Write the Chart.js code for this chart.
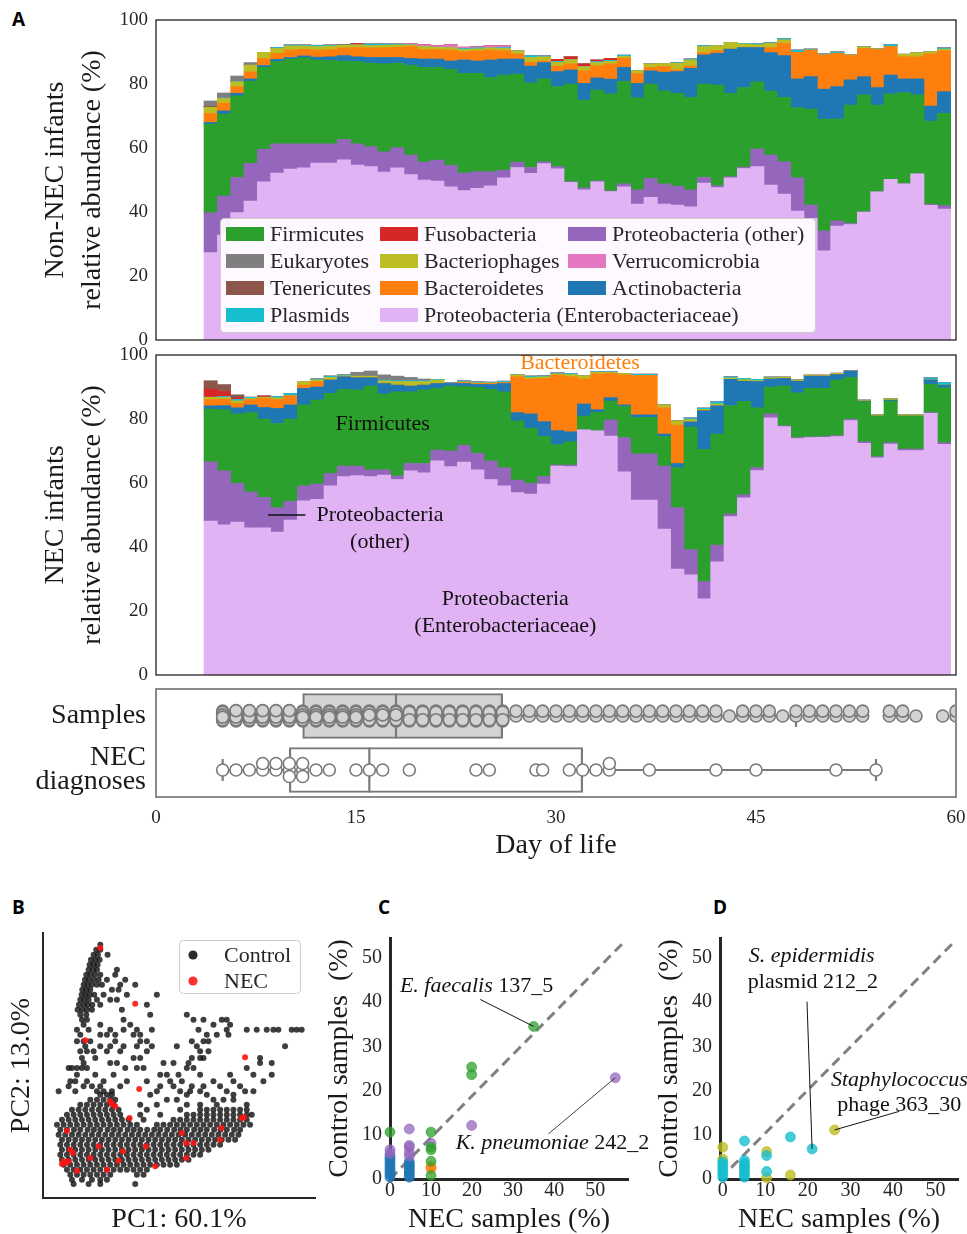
<!DOCTYPE html>
<html>
<head>
<meta charset="utf-8">
<title>Infant gut microbiome before NEC</title>
<script src="https://cdn.jsdelivr.net/npm/chart.js@4.4.1/dist/chart.umd.min.js"></script>
<style>
  html, body { margin: 0; padding: 0; background: #fff; }
  body { position: relative; width: 967px; height: 1234px; overflow: hidden; }
  .box { position: absolute; }
  .tag { position: absolute; font: bold 19px "Open Sans", "DejaVu Sans", sans-serif; line-height: 19px; color: #000; }
</style>
</head>
<body>
<div class="tag" style="left:12px; top:10px;">A</div>
<div class="tag" style="left:12px; top:898px;">B</div>
<div class="tag" style="left:378px; top:898px;">C</div>
<div class="tag" style="left:713px; top:898px;">D</div>

<div class="box" style="left:0; top:0; width:967px; height:350px;"><canvas id="nonNec"></canvas></div>
<div class="box" style="left:0; top:345px; width:967px; height:340px;"><canvas id="nec"></canvas></div>
<div class="box" style="left:0; top:685px; width:967px; height:175px;"><canvas id="timeline"></canvas></div>
<div class="box" style="left:0; top:895px; width:320px; height:339px;"><canvas id="pca"></canvas></div>
<div class="box" style="left:320px; top:900px; width:330px; height:334px;"><canvas id="bacteria"></canvas></div>
<div class="box" style="left:650px; top:900px; width:317px; height:334px;"><canvas id="mobile"></canvas></div>

<script>
// ---- panel A: mean relative abundance per day of life ----
const dayBins = [4, 5, 6, 7, 8, 9, 10, 11, 12, 13, 14, 15, 16, 17, 18, 19, 20, 21, 22, 23,
  24, 25, 26, 27, 28, 29, 30, 31, 32, 33, 34, 35, 36, 37, 38, 39, 40, 41, 42, 43,
  44, 45, 46, 47, 48, 49, 50, 51, 52, 53, 54, 55, 56, 57, 58, 59];
const pctTicks = [0, 20, 40, 60, 80, 100];
const phylumNames = ['Proteobacteria (Enterobacteriaceae)', 'Proteobacteria (other)', 'Firmicutes',
  'Actinobacteria', 'Bacteroidetes', 'Bacteriophages', 'Plasmids', 'Verrucomicrobia',
  'Fusobacteria', 'Tenericutes', 'Eukaryotes'];

// non-NEC infants
const nnEntero = [27.3, 32.8, 39.8, 43.4, 49.4, 52.2, 53.4, 53.8, 55.3, 55.3,
  56.3, 54.7, 54.2, 52.5, 53.8, 51.7, 50.0, 49.7, 47.9, 46.7,
  47.4, 48.2, 50.7, 53.9, 52.1, 55.1, 53.5, 49.3, 46.9, 49.4,
  46.4, 47.9, 42.5, 44.6, 42.5, 42.2, 41.6, 49.0, 47.6, 50.7,
  53.6, 54.2, 48.4, 45.6, 40.3, 38.0, 27.9, 35.6, 36.1, 40.0,
  46.3, 50.2, 48.8, 51.9, 42.1, 40.9];
const nnOther = [12.5, 12.2, 11.0, 11.8, 10.2, 9.1, 7.9, 7.5, 6.0, 6.0,
  6.4, 6.6, 6.2, 6.3, 6.3, 6.1, 5.6, 6.5, 6.7, 5.5,
  5.2, 4.4, 2.4, 1.7, 1.8, 0.6, 0.7, 0.2, 0.6, 0.3,
  0.2, 0.9, 4.4, 5.9, 6.3, 5.9, 5.3, 1.8, 0.6, 0.3,
  0.4, 5.5, 9.4, 10.1, 10.4, 4.2, 6.2, 1.6, 0.3, 0,
  0, 0, 0, 0, 0.3, 1.1];
const nnFirmicutes = [27.7, 25.6, 25.5, 25.7, 25.6, 25.7, 26.5, 26.9, 26.2, 26.0,
  24.5, 25.7, 26.1, 27.5, 26.4, 28.1, 29.6, 29.0, 30.0, 31.1,
  30.7, 29.4, 29.7, 27.5, 26.5, 25.9, 25.0, 30.5, 27.5, 28.4,
  30.3, 32.0, 28.8, 29.5, 29.1, 29.0, 28.9, 29.2, 31.5, 26.1,
  24.9, 21.0, 20.0, 20.1, 21.9, 30.0, 34.9, 31.8, 37.0, 36.6,
  27.1, 26.7, 28.5, 24.7, 26.0, 28.8];
const nnActino = [0.5, 1.0, 0.8, 0.7, 0.6, 0.7, 0.5, 0.6, 0.9, 1.2,
  1.7, 1.5, 1.8, 2.0, 1.8, 2.1, 2.6, 2.6, 2.6, 4.2,
  3.9, 5.5, 5.0, 4.7, 5.2, 5.1, 4.7, 4.4, 5.2, 3.8,
  4.6, 4.4, 4.5, 4.1, 5.8, 6.8, 9.1, 9.1, 9.9, 13.8,
  12.5, 10.7, 12.0, 13.1, 9.0, 10.1, 9.4, 10.2, 7.9, 5.7,
  5.5, 5.9, 4.3, 5.0, 4.7, 6.8];
const nnBactero = [2.8, 2.4, 2.0, 2.2, 2.2, 1.9, 2.3, 2.0, 2.2, 2.3,
  2.4, 2.9, 3.0, 3.0, 3.2, 3.7, 3.0, 3.0, 3.4, 2.6,
  3.2, 3.1, 2.6, 1.6, 1.2, 0.5, 1.7, 1.9, 3.9, 3.8,
  4.8, 2.9, 3.1, 1.1, 1.8, 0.5, 0.7, 0.7, 0.8, 0,
  0, 0, 1.6, 3.8, 8.3, 8.3, 10.7, 10.4, 7.6, 8.8,
  11.9, 8.9, 6.9, 6.9, 16.3, 12.8];
const nnPhage = [1.9, 1.5, 1.6, 2.1, 1.9, 1.5, 1.3, 1.1, 1.1, 1.1,
  0.8, 0.8, 0.7, 0.8, 0.7, 0.5, 0.9, 0.7, 0.8, 0.7,
  0.6, 0.7, 0.7, 0.9, 1.5, 1.3, 1.2, 1.3, 1.3, 1.0,
  0.8, 0.5, 0.9, 1.1, 0.9, 2.1, 1.9, 1.9, 1.6, 2.1,
  1.1, 0.9, 1.3, 1.1, 0, 0, 0, 0, 0.2, 0.5,
  0.2, 0, 0.8, 1.3, 0.7, 0.5];
const nnPlasmid = [0, 0.2, 0.2, 0, 0, 0.3, 0.3, 0.3, 0.4, 0.3,
  0, 0, 0.5, 0.4, 0.3, 0, 0, 0, 0, 0.3,
  0.3, 0, 0.3, 0, 0.6, 0.3, 0.3, 0, 0, 0.3,
  0.3, 0.4, 0, 0, 0, 0.2, 0.3, 0.3, 0, 0,
  0.2, 0.3, 0.2, 0.4, 0.7, 0.3, 0.3, 0.4, 0, 0,
  0, 0.6, 0, 0, 0, 0.4];
const nnVerruco = [0, 0, 0, 0, 0, 0, 0, 0, 0, 0,
  0, 0, 0, 0, 0, 0.3, 0.6, 0.5, 0.8, 0.4,
  0.3, 0.7, 0.5, 0, 0, 0, 0, 0, 0, 0,
  0, 0, 0, 0, 0, 0, 0, 0, 0, 0,
  0, 0, 0, 0, 0, 0, 0, 0, 0, 0,
  0, 0, 0, 0, 0, 0];
const nnFuso = [0, 0, 0, 0, 0, 0, 0, 0, 0, 0,
  0, 0.4, 0, 0, 0, 0, 0, 0, 0, 0,
  0, 0, 0, 0, 0, 0, 0.6, 0.9, 0.9, 0.5,
  0.6, 0, 0, 0, 0, 0, 0, 0, 0, 0,
  0, 0, 0, 0, 0, 0, 0, 0, 0, 0,
  0, 0, 0, 0, 0, 0];
const nnTeneri = [0.3, 0, 0, 0, 0, 0, 0, 0, 0, 0,
  0, 0, 0, 0, 0, 0, 0, 0, 0, 0,
  0, 0, 0, 0, 0, 0, 0, 0, 0, 0,
  0, 0, 0, 0, 0, 0, 0, 0, 0, 0,
  0, 0, 0, 0, 0, 0, 0, 0, 0, 0,
  0, 0, 0, 0, 0, 0];
const nnEukary = [1.7, 1.5, 1.6, 0.8, 0, 0, 0, 0, 0, 0,
  0.3, 0, 0, 0, 0, 0, 0, 0, 0, 0,
  0, 0, 0, 0, 0, 0, 0, 0, 0, 0,
  0, 0, 0, 0, 0, 0, 0, 0, 0, 0,
  0, 0, 0, 0, 0, 0, 0, 0, 0, 0,
  0, 0, 0, 0, 0, 0];

// NEC infants
const necEntero = [48.1, 46.9, 47.8, 46.0, 46.0, 44.7, 48.4, 54.4, 54.9, 59.1,
  62.0, 62.3, 62.0, 62.5, 61.1, 63.8, 63.2, 66.9, 65.1, 66.5,
  64.1, 61.1, 59.1, 57.0, 56.5, 59.7, 65.3, 65.1, 76.6, 76.3,
  74.7, 63.5, 54.7, 54.7, 45.6, 33.1, 31.3, 23.8, 35.4, 49.5,
  55.4, 63.9, 80.4, 77.6, 73.9, 74.2, 74.3, 74.5, 79.5, 72.4,
  67.9, 72.2, 70.1, 70.1, 81.8, 72.1];
const necOther = [18.5, 16.9, 12.1, 11.2, 9.5, 7.6, 5.9, 4.7, 4.8, 3.9,
  3.3, 3.0, 2.1, 1.6, 1.1, 2.3, 2.9, 3.4, 4.9, 5.3,
  5.2, 5.8, 5.7, 3.9, 3.4, 2.3, 0.3, 0.5, 0, 0,
  5.0, 10.7, 14.4, 14.4, 19.7, 19.2, 7.9, 5.4, 5.2, 0.8,
  0.9, 0.9, 1.2, 0.3, 0.3, 0.2, 0.2, 0.3, 0.4, 0.5,
  0.3, 0.4, 0.5, 0.5, 0.2, 0.5];
const necFirmicutes = [16.5, 19.1, 21.7, 24.8, 24.5, 26.3, 25.7, 25.3, 26.2, 25.0,
  24.0, 23.8, 26.2, 23.7, 26.3, 22.4, 23.0, 19.3, 20.3, 18.3,
  20.6, 22.4, 23.7, 18.5, 17.2, 12.5, 6.4, 7.3, 4.3, 5.8,
  5.9, 9.7, 11.4, 11.4, 9.2, 12.5, 38.3, 41.3, 34.7, 33.9,
  29.2, 18.7, 8.4, 12.4, 14.0, 15.2, 15.1, 17.4, 13.1, 12.5,
  12.7, 13.0, 10.3, 10.3, 8.9, 17.2];
const necActino = [1.0, 1.3, 1.9, 2.4, 3.6, 4.7, 4.4, 5.2, 4.1, 4.2,
  3.9, 3.8, 2.6, 3.3, 2.1, 1.8, 1.5, 1.5, 0.8, 1.0,
  0.9, 1.5, 2.6, 2.6, 4.5, 4.7, 4.4, 3.1, 3.8, 0.8,
  1.1, 0.5, 0.8, 0.8, 0.8, 1.3, 1.6, 12.1, 8.8, 8.2,
  6.3, 8.2, 2.5, 2.4, 3.6, 3.8, 3.8, 1.7, 2.0, 0.2,
  0, 0.3, 0, 0, 1.3, 0.8];
const necBactero = [2.0, 2.0, 1.4, 1.7, 2.9, 2.8, 2.9, 1.0, 1.7, 0,
  0, 0, 0, 0, 0, 0, 0, 0, 0, 0.3,
  0.3, 0.3, 0.3, 11.2, 10.9, 13.5, 17.4, 17.2, 7.8, 11.2,
  7.6, 9.4, 12.3, 12.3, 8.2, 12.0, 0, 0, 0, 0,
  0, 0, 0, 0, 0, 0, 0, 0, 0, 0,
  0, 0, 0, 0, 0, 0];
const necPhage = [0.7, 0.5, 0.8, 0.3, 0.3, 0.5, 0, 1.1, 0.5, 0.8,
  0.3, 0.5, 0.5, 0.8, 1.1, 1.4, 1.1, 1.1, 0, 0.2,
  0.2, 0.2, 0, 0.6, 0.5, 0.5, 0.3, 0.7, 1.0, 0.5,
  0.3, 0.4, 0, 0, 0.9, 1.3, 0.7, 0.4, 0.6, 0.4,
  0.5, 0.3, 0.4, 0.4, 0.4, 0.3, 0.3, 0.4, 0, 0.3,
  0.4, 0.4, 0.4, 0.4, 0, 0];
const necPlasmid = [0, 0.3, 0.4, 0.4, 0, 0.4, 0.7, 0, 0.3, 0.4,
  0.3, 0, 0, 0.3, 0.3, 0.3, 0.3, 0.2, 0.2, 0.3,
  0.3, 0.2, 0.4, 0, 0.4, 0.3, 0.3, 0.3, 0, 0.2,
  0.2, 0, 0.4, 0.4, 0, 0, 0.5, 0.4, 0.7, 0.4,
  0.4, 0.4, 0.2, 0, 0, 0, 0, 0, 0, 0,
  0, 0, 0, 0, 0.7, 0.8];
const necVerruco = [0, 0, 0, 0, 0, 0, 0, 0, 0, 0,
  0, 0, 0, 0, 0, 0, 0, 0, 0, 0,
  0, 0, 0, 0, 0, 0, 0, 0, 0, 0,
  0, 0, 0, 0, 0, 0, 0, 0, 0, 0,
  0, 0, 0, 0, 0, 0, 0, 0, 0, 0,
  0, 0, 0, 0, 0, 0];
const necFuso = [2.5, 1.6, 0.5, 0, 0.4, 0, 0, 0, 0, 0,
  0, 0, 0, 0, 0, 0, 0, 0, 0, 0,
  0, 0, 0, 0, 0, 0, 0, 0, 0, 0,
  0, 0, 0, 0, 0, 0, 0, 0, 0, 0,
  0, 0, 0, 0, 0, 0, 0, 0, 0, 0,
  0, 0, 0, 0, 0, 0];
const necTeneri = [2.6, 2.1, 0.9, 0, 0, 0, 0, 0, 0, 0,
  0, 0, 0, 0, 0, 0, 0, 0, 0, 0,
  0, 0, 0, 0, 0, 0, 0, 0, 0, 0,
  0, 0, 0, 0, 0, 0, 0, 0, 0, 0,
  0, 0, 0, 0, 0, 0, 0, 0, 0, 0,
  0, 0, 0, 0, 0, 0];
const necEukary = [0, 0, 0, 0, 0, 0, 0, 0, 0, 0,
  0, 1.2, 1.6, 1.6, 1.4, 1.0, 0.5, 0, 0, 0,
  0, 0, 0, 0, 0, 0, 0, 0, 0, 0,
  0, 0, 0, 0, 0, 0, 0, 0, 0, 0,
  0, 0, 0, 0, 0, 0, 0, 0, 0, 0,
  0, 0, 0, 0, 0, 0];

// sample days (day, number of samples) and NEC diagnosis days
const dayTicks = [0, 15, 30, 45, 60];
const rowLabels = ['Samples', ['NEC', 'diagnoses']];
const sampleDayCounts = [[5, 9], [6, 10], [7, 10], [8, 10], [9, 10], [10, 10], [11, 9], [12, 9],
  [13, 9], [14, 9], [15, 9], [16, 8], [17, 8], [18, 8], [19, 7], [20, 7], [21, 7], [22, 7],
  [23, 7], [24, 7], [25, 7], [26, 7], [27, 2], [28, 2], [29, 2], [30, 2], [31, 2], [32, 2],
  [33, 2], [34, 2], [35, 2], [36, 2], [37, 2], [38, 2], [39, 2], [40, 2], [41, 2], [42, 2],
  [43, 1], [44, 2], [45, 2], [46, 2], [47, 1], [48, 2], [49, 2], [50, 2], [51, 2], [52, 2],
  [53, 2], [55, 2], [56, 2], [57, 1], [59, 1], [60, 2]];
const necDays = [5, 6, 7, 8, 8, 9, 9, 10, 10, 10, 11, 11, 11, 12, 13, 15, 16, 17, 19, 24, 25,
  28.5, 29, 31, 32, 33, 34, 34, 37, 42, 45, 51, 54];

// ---- panel B: PCA (PC2 value, PC1 values along that row) ----
const pcaControlRows = [
  [850, [300]],
  [835, [288, 300]],
  [820, [280, 293, 322]],
  [805, [272, 285, 298]],
  [790, [268, 280, 292]],
  [775, [265, 278, 290, 350]],
  [760, [258, 270, 284, 300, 345]],
  [745, [254, 266, 280, 295, 320, 375]],
  [730, [250, 262, 275, 290, 305, 360, 405]],
  [715, [246, 258, 270, 335, 355]],
  [700, [244, 256, 268, 282, 310, 380, 470]],
  [685, [240, 252, 265, 290, 330, 350]],
  [670, [236, 250, 262, 276, 300, 440]],
  [655, [232, 246, 260, 275, 365]],
  [640, [240, 258, 450, 560]],
  [625, [245, 260, 370, 580, 610, 665, 680]],
  [610, [250, 300, 390, 640, 690]],
  [595, [230, 265, 330, 370, 410, 455, 595, 680, 740, 770, 800, 820, 835, 875, 890, 905]],
  [580, [240, 300, 320, 345, 400, 420, 620, 650, 685]],
  [560, [230, 250, 270, 345, 420, 440, 575, 610, 625]],
  [545, [255, 300, 330, 370, 410, 455, 530, 590, 855]],
  [530, [240, 260, 280, 320, 360, 440, 600, 625]],
  [510, [245, 285, 400, 420, 575, 600, 610, 780]],
  [495, [250, 330, 350, 490, 520, 565, 780, 815]],
  [480, [205, 215, 230, 245, 260, 375, 410, 430, 560, 580, 740]],
  [460, [230, 285, 340, 480, 500, 535, 600, 690, 760, 815]],
  [440, [210, 225, 260, 310, 380, 440, 510, 545, 640, 700, 790]],
  [425, [205, 250, 275, 300, 360, 480, 520, 575, 610, 660, 720]],
  [410, [175, 225, 290, 310, 335, 470, 540, 570, 600, 680, 735, 760]],
  [400, [300, 320, 335, 450, 560, 620, 700]],
  [385, [270, 290, 310, 330, 345, 500, 530, 640, 670, 700]],
  [370, [240, 260, 280, 300, 320, 340, 420, 470, 560, 600, 650, 740]],
  [355, [215, 235, 255, 275, 295, 315, 335, 355, 440, 540, 600, 620, 640, 660, 680, 700, 720, 740]],
  [340, [200, 220, 240, 260, 280, 300, 320, 340, 360, 420, 480, 560, 580, 600, 620, 640, 660, 680, 700, 720, 740, 755]],
  [325, [185, 205, 225, 245, 265, 285, 305, 325, 345, 365, 385, 430, 520, 540, 560, 580, 600, 620, 640, 660, 680, 700, 720, 740]],
  [310, [170, 190, 210, 230, 250, 270, 290, 310, 330, 350, 370, 390, 410, 470, 490, 510, 530, 550, 570, 590, 610, 630, 650, 670, 690, 710, 730, 750]],
  [295, [180, 200, 221, 240, 262, 281, 300, 322, 341, 360, 382, 401, 420, 441, 462, 480, 501, 522, 541, 560, 582, 601, 620, 642, 661, 680, 702, 720]],
  [280, [175, 195, 215, 235, 255, 275, 295, 315, 335, 355, 375, 395, 415, 435, 455, 475, 495, 515, 535, 555, 575, 595, 615, 635, 655, 675, 695, 715]],
  [265, [185, 205, 225, 245, 265, 285, 305, 325, 345, 365, 385, 405, 425, 445, 465, 485, 505, 525, 545, 565, 585, 605, 625, 645, 665, 685, 705]],
  [250, [180, 200, 220, 240, 260, 280, 300, 320, 340, 360, 380, 400, 420, 440, 460, 480, 500, 520, 540, 560, 580, 600, 620, 640, 660]],
  [235, [185, 205, 225, 245, 265, 285, 305, 325, 345, 365, 385, 405, 425, 445, 465, 485, 505, 525, 545, 565, 585, 605, 625]],
  [220, [180, 200, 220, 240, 260, 280, 300, 320, 340, 360, 380, 400, 420, 440, 460, 480, 500, 520, 540, 560, 580, 600]],
  [205, [185, 205, 225, 245, 265, 285, 305, 325, 345, 365, 385, 405, 425, 445, 465, 485, 505, 525, 545, 565]],
  [190, [190, 210, 230, 250, 270, 290, 310, 330, 350, 370, 390, 410, 430, 450, 470, 490, 510, 530]],
  [175, [200, 220, 240, 260, 280, 300, 320, 340, 360, 380, 400, 420, 440]],
  [160, [210, 230, 250, 270, 290, 310, 330, 410, 430]],
  [145, [215, 245, 275, 300, 320]],
  [132, [220, 265, 300, 405]]
];
const pcaNec = [[300, 840], [405, 673], [255, 563], [735, 512], [417, 417], [330, 380], [335, 372],
  [345, 365], [388, 330], [200, 292], [210, 235], [218, 225], [190, 200], [185, 192], [195, 195],
  [205, 200], [230, 172], [270, 210], [295, 245], [320, 175], [355, 202], [368, 230], [437, 245],
  [465, 185], [545, 285], [558, 255], [580, 255], [558, 210], [663, 300], [660, 265], [725, 330],
  [732, 332]];

// ---- panels C and D: % of NEC samples vs % of control samples ----
const shareTicks = [0, 10, 20, 30, 40, 50];
const cFirmicutes = [[0, 10.6], [10, 10.6], [10, 7.2], [10, 6.6], [10, 4.0], [10, 0.8],
  [19.9, 25.3], [19.9, 23.6], [35.0, 34.5]];
const cProteobacteria = [[0, 6.6], [0, 5.8], [4.7, 11.3], [4.7, 7.6], [4.7, 7.2], [4.7, 6.0],
  [4.7, 5.2], [10, 8.1], [19.9, 12.1], [54.9, 22.9]];
const cActinobacteria = [[0, 0.4], [0, 1.0], [0, 1.6], [0, 2.2], [0, 2.8], [0, 3.4], [0, 4.0],
  [0, 4.6], [0, 5.2], [4.7, 0.4], [4.7, 0.9], [4.7, 1.4], [4.7, 1.9], [4.7, 2.4], [4.7, 2.9],
  [4.7, 3.4], [4.7, 3.9]];
const cBacteroidetes = [[10, 2.9], [10, 2.3]];
const dPhages = [[0, 7.2], [0, 4.5], [5.1, 2.7], [10.3, 6.2], [10.3, 0.3], [15.9, 0.9], [26.3, 11.1]];
const dPlasmids = [[0, 0.4], [0, 1.1], [0, 1.8], [0, 2.5], [0, 3.2], [0, 3.8], [5.1, 8.6],
  [5.1, 0.4], [5.1, 1.0], [5.1, 1.6], [5.1, 2.2], [5.1, 2.9], [5.1, 3.5], [5.1, 4.2],
  [10.3, 5.3], [10.3, 1.7], [15.9, 9.5], [21.0, 6.8]];

// ---------------------------------------------------------------------------
const SERIF = '"Liberation Serif", "Times New Roman", serif';
Chart.defaults.font.family = SERIF;
Chart.defaults.color = '#262626';
Chart.defaults.animation = false;

const phylumColors = ['#e1b3f5', '#9467bd', '#2ca02c', '#1f77b4', '#ff7f0e', '#bcbd22',
  '#17becf', '#e377c2', '#d62728', '#8c564b', '#7f7f7f'];
const GRAY = '#7a7a7a';

const asTicks = vals => s => { s.ticks = vals.map(v => ({ value: v })); };
const xy = pairs => pairs.map(([x, y]) => ({ x, y }));
// fix an axis' thickness and stop its labels from shrinking the plot area
const fitAxis = size => s => {
  if (s.isHorizontal()) s.height = size; else s.width = size;
  s.paddingTop = 0; s.paddingBottom = 0; s.paddingLeft = 0; s.paddingRight = 0;
};

function framePlugin(color, width) {
  return {
    id: 'frame',
    afterDraw(chart) {
      const { ctx, chartArea: a } = chart;
      ctx.save();
      ctx.strokeStyle = color;
      ctx.lineWidth = width;
      ctx.strokeRect(a.left, a.top, a.right - a.left, a.bottom - a.top);
      ctx.restore();
    }
  };
}

function boxPath(ctx, x, y, w, h, r) {
  ctx.beginPath();
  ctx.moveTo(x + r, y);
  ctx.arcTo(x + w, y, x + w, y + h, r);
  ctx.arcTo(x + w, y + h, x, y + h, r);
  ctx.arcTo(x, y + h, x, y, r);
  ctx.arcTo(x, y, x + w, y, r);
  ctx.closePath();
}

function drawParts(ctx, parts, cx, cy, size, color) {
  const fonts = parts.map(p => (p.it ? 'italic ' : '') + size + 'px ' + SERIF);
  let total = 0;
  const widths = parts.map((p, i) => {
    ctx.font = fonts[i];
    const w = ctx.measureText(p.t).width;
    total += w;
    return w;
  });
  let x = cx - total / 2;
  ctx.fillStyle = color;
  ctx.textAlign = 'left';
  ctx.textBaseline = 'middle';
  parts.forEach((p, i) => {
    ctx.font = fonts[i];
    ctx.fillText(p.t, x, cy);
    x += widths[i];
  });
}

function notesPlugin(notes, leaders) {
  return {
    id: 'notes',
    afterDatasetsDraw(chart) {
      const { ctx, scales: { x, y } } = chart;
      ctx.save();
      leaders.forEach(l => {
        ctx.beginPath();
        ctx.strokeStyle = '#111';
        ctx.lineWidth = l.width || 1;
        ctx.moveTo(x.getPixelForValue(l.from[0]), y.getPixelForValue(l.from[1]));
        ctx.lineTo(x.getPixelForValue(l.to[0]), y.getPixelForValue(l.to[1]));
        ctx.stroke();
      });
      notes.forEach(n => drawParts(ctx, n.parts, x.getPixelForValue(n.at[0]),
        y.getPixelForValue(n.at[1]), n.size || 22, n.color || '#111'));
      ctx.restore();
    }
  };
}

// ---- legend of panel A (3 columns, filled column by column) ----
const legendGrid = [
  ['Firmicutes', 'Fusobacteria', 'Proteobacteria (other)'],
  ['Eukaryotes', 'Bacteriophages', 'Verrucomicrobia'],
  ['Tenericutes', 'Bacteroidetes', 'Actinobacteria'],
  ['Plasmids', 'Proteobacteria (Enterobacteriaceae)', null]
];
const phylaLegend = {
  id: 'phylaLegend',
  afterDraw(chart) {
    const ctx = chart.ctx;
    const colX = [226, 380, 568];
    const rowY = [234, 261, 288, 315];
    ctx.save();
    boxPath(ctx, 220.5, 218.5, 595, 114, 4);
    ctx.fillStyle = 'rgba(255,255,255,0.92)';
    ctx.fill();
    ctx.strokeStyle = '#cccccc';
    ctx.lineWidth = 1;
    ctx.stroke();
    ctx.font = '22px ' + SERIF;
    ctx.textBaseline = 'middle';
    ctx.textAlign = 'left';
    legendGrid.forEach((row, r) => row.forEach((name, c) => {
      if (!name) return;
      ctx.fillStyle = phylumColors[phylumNames.indexOf(name)];
      ctx.fillRect(colX[c], rowY[r] - 7, 38, 14);
      ctx.fillStyle = '#262626';
      ctx.fillText(name, colX[c] + 44, rowY[r] + 1);
    }));
    ctx.restore();
  }
};

function stackedDatasets(series) {
  return phylumNames.map((name, i) => ({
    label: name,
    data: series[i],
    backgroundColor: phylumColors[i],
    borderWidth: 0,
    barPercentage: 1,
    categoryPercentage: 1
  }));
}

function abundanceOptions(titleLines, padTop, padBottom) {
  return {
    responsive: true,
    maintainAspectRatio: false,
    animation: false,
    events: [],
    layout: { autoPadding: false, padding: { top: padTop, bottom: padBottom, left: 0, right: 11 } },
    scales: {
      x: { type: 'linear', min: -0.1, max: 59.9, stacked: true, offset: false, display: false },
      y: {
        type: 'linear', min: 0, max: 100, stacked: true, offset: false,
        grid: { display: false, drawTicks: false },
        border: { display: false },
        afterBuildTicks: asTicks(pctTicks),
        afterFit: fitAxis(156),
        ticks: { font: { size: 19 }, padding: 8, color: '#262626' },
        title: {
          display: true, text: titleLines, color: '#1a1a1a',
          font: { size: 28, lineHeight: 1.32 }, padding: { top: 37, bottom: 0 }
        }
      }
    },
    plugins: { legend: { display: false }, tooltip: { enabled: false } }
  };
}

new Chart(document.getElementById('nonNec'), {
  type: 'bar',
  data: {
    labels: dayBins,
    datasets: stackedDatasets([nnEntero, nnOther, nnFirmicutes, nnActino, nnBactero, nnPhage,
      nnPlasmid, nnVerruco, nnFuso, nnTeneri, nnEukary])
  },
  options: abundanceOptions(['Non-NEC infants', 'relative abundance (%)'], 20, 10),
  plugins: [framePlugin('#222', 1.3), phylaLegend]
});

const necNotes = [
  { parts: [{ t: 'Bacteroidetes' }], at: [31.7, 97.5], color: '#ff7f0e' },
  { parts: [{ t: 'Firmicutes' }], at: [16.9, 78.4] },
  { parts: [{ t: 'Proteobacteria' }], at: [16.7, 50] },
  { parts: [{ t: '(other)' }], at: [16.7, 41.6] },
  { parts: [{ t: 'Proteobacteria' }], at: [26.1, 23.75] },
  { parts: [{ t: '(Enterobacteriaceae)' }], at: [26.1, 15.3] }
];
new Chart(document.getElementById('nec'), {
  type: 'bar',
  data: {
    labels: dayBins,
    datasets: stackedDatasets([necEntero, necOther, necFirmicutes, necActino, necBactero, necPhage,
      necPlasmid, necVerruco, necFuso, necTeneri, necEukary])
  },
  options: abundanceOptions(['NEC infants', 'relative abundance (%)'], 10, 10),
  plugins: [notesPlugin(necNotes, [{ from: [8.3, 50], to: [11.1, 50], width: 1.5 }]),
    framePlugin('#222', 1.3)]
});

// ---- sample / diagnosis timeline with box plots ----
function quantile(sorted, p) {
  const pos = (sorted.length - 1) * p;
  const lo = Math.floor(pos), hi = Math.ceil(pos);
  return sorted[lo] + (sorted[hi] - sorted[lo]) * (pos - lo);
}
function boxStats(values) {
  const s = [...values].sort((a, b) => a - b);
  const q1 = quantile(s, 0.25), med = quantile(s, 0.5), q3 = quantile(s, 0.75);
  const iqr = q3 - q1;
  return {
    q1, med, q3,
    lo: Math.min(...s.filter(v => v >= q1 - 1.5 * iqr)),
    hi: Math.max(...s.filter(v => v <= q3 + 1.5 * iqr))
  };
}
const sampleJitter = [0, -0.09, 0.09, -0.045, 0.045, -0.07, 0.07, -0.02, 0.02, -0.1];
const necJitter = [0, -0.12, 0.12];
function stripPoints(values, row, jitter) {
  const seen = {};
  return values.map(v => {
    const k = seen[v] = (seen[v] || 0) + 1;
    return { x: v, y: row + jitter[(k - 1) % jitter.length] };
  });
}
const sampleDays = sampleDayCounts.flatMap(([d, n]) => Array(n).fill(d));
const stats = [boxStats(sampleDays), boxStats(necDays)];
const line = { type: 'scatter', showLine: true, pointRadius: 0, borderColor: GRAY, borderWidth: 2.2, order: 3 };

new Chart(document.getElementById('timeline'), {
  type: 'scatter',
  data: {
    datasets: [
      { data: stripPoints(sampleDays, 0, sampleJitter), pointRadius: 6, pointBackgroundColor: '#d3d3d3',
        pointBorderColor: GRAY, pointBorderWidth: 1.6, order: 0 },
      { data: stripPoints(necDays, 1, necJitter), pointRadius: 6, pointBackgroundColor: '#ffffff',
        pointBorderColor: GRAY, pointBorderWidth: 1.6, order: 0 },
      { data: stats.map((s, r) => ({ x: s.med, y: r })), pointStyle: 'line', rotation: 90, pointRadius: 22.5,
        pointBorderColor: GRAY, pointBorderWidth: 2.2, order: 1 },
      { type: 'bar', indexAxis: 'y', data: stats.map((s, r) => ({ x: [s.q1, s.q3], y: r })),
        backgroundColor: ['#d3d3d3', '#ffffff'], borderColor: GRAY, borderWidth: 2.2,
        borderSkipped: false, barThickness: 45, grouped: false, order: 2 },
      ...stats.flatMap((s, r) => [
        Object.assign({}, line, { data: [{ x: s.lo, y: r }, { x: s.q1, y: r }] }),
        Object.assign({}, line, { data: [{ x: s.q3, y: r }, { x: s.hi, y: r }] })
      ]),
      { data: stats.flatMap((s, r) => [{ x: s.lo, y: r }, { x: s.hi, y: r }]), pointStyle: 'line',
        rotation: 90, pointRadius: 11, pointBorderColor: GRAY, pointBorderWidth: 2.2, order: 3 }
    ]
  },
  options: {
    responsive: true,
    maintainAspectRatio: false,
    animation: false,
    events: [],
    layout: { autoPadding: false, padding: { top: 4, bottom: 0, left: 0, right: 11 } },
    scales: {
      x: {
        type: 'linear', min: 0, max: 60, offset: false,
        grid: { display: false, drawTicks: false }, border: { display: false },
        afterBuildTicks: asTicks(dayTicks),
        afterFit: fitAxis(63),
        ticks: { font: { size: 19 }, padding: 10, maxRotation: 0 },
        title: { display: true, text: 'Day of life', color: '#1a1a1a', font: { size: 28, lineHeight: 1 }, padding: { top: 0, bottom: 0 } }
      },
      y: {
        type: 'linear', min: -0.5, max: 1.5, reverse: true, offset: false,
        grid: { display: false, drawTicks: false }, border: { display: false },
        afterBuildTicks: asTicks([0, 1]),
        afterFit: fitAxis(156),
        ticks: { font: { size: 28, lineHeight: 0.85 }, padding: 10, color: '#1a1a1a', callback: v => rowLabels[v] }
      }
    },
    plugins: { legend: { display: false }, tooltip: { enabled: false } }
  },
  plugins: [framePlugin('#8a8a8a', 2)]
});

// ---- B: PCA ----
const pcaControl = pcaControlRows.flatMap(([pc2, xs]) => xs.map(pc1 => ({ x: pc1, y: pc2 })));
const pcaLegend = {
  id: 'pcaLegend',
  afterDraw(chart) {
    const ctx = chart.ctx;
    ctx.save();
    boxPath(ctx, 179.5, 45.5, 121, 53, 4);
    ctx.fillStyle = 'rgba(255,255,255,0.92)';
    ctx.fill();
    ctx.strokeStyle = '#cccccc';
    ctx.lineWidth = 1;
    ctx.stroke();
    ctx.font = '22px ' + SERIF;
    ctx.textBaseline = 'middle';
    ctx.textAlign = 'left';
    [['Control', 'rgba(20,20,20,0.9)', 60], ['NEC', 'rgba(255,25,25,0.9)', 86]].forEach(([name, col, y]) => {
      ctx.beginPath();
      ctx.arc(193, y, 4.6, 0, Math.PI * 2);
      ctx.fillStyle = col;
      ctx.fill();
      ctx.fillStyle = '#262626';
      ctx.fillText(name, 224, y + 1);
    });
    ctx.restore();
  }
};
new Chart(document.getElementById('pca'), {
  type: 'scatter',
  data: {
    datasets: [
      { label: 'NEC', data: xy(pcaNec), pointRadius: 3, pointBorderWidth: 0,
        pointBackgroundColor: 'rgba(255,20,20,0.9)', order: 0, clip: false },
      { label: 'Control', data: pcaControl, pointRadius: 3, pointBorderWidth: 0,
        pointBackgroundColor: 'rgba(20,20,20,0.82)', order: 1, clip: false }
    ]
  },
  options: {
    responsive: true,
    maintainAspectRatio: false,
    animation: false,
    events: [],
    layout: { autoPadding: false, padding: { top: 38, right: 5, left: 0, bottom: 0 } },
    scales: {
      x: {
        type: 'linear', min: 128, max: 945, offset: false,
        grid: { display: false, drawTicks: false }, ticks: { display: false },
        border: { display: true, color: '#262626', width: 2 },
        afterFit: fitAxis(36),
        title: { display: true, text: 'PC1: 60.1%', color: '#1a1a1a', font: { size: 28, lineHeight: 1 }, padding: { top: 0, bottom: 0 } }
      },
      y: {
        type: 'linear', min: 90, max: 885, offset: false,
        grid: { display: false, drawTicks: false }, ticks: { display: false },
        border: { display: true, color: '#262626', width: 2 },
        afterFit: fitAxis(43),
        title: { display: true, text: 'PC2: 13.0%', color: '#1a1a1a', font: { size: 28, lineHeight: 1.2 }, padding: { top: 5, bottom: 0 } }
      }
    },
    plugins: { legend: { display: false }, tooltip: { enabled: false } }
  },
  plugins: [pcaLegend]
});

// ---- C and D ----
const diagonal = {
  id: 'diagonal',
  beforeDatasetsDraw(chart) {
    const { ctx, chartArea: a } = chart;
    ctx.save();
    ctx.strokeStyle = '#808080';
    ctx.lineWidth = 3;
    ctx.setLineDash([10, 6]);
    ctx.beginPath();
    ctx.moveTo(a.left, a.bottom);
    ctx.lineTo(a.right - 2, a.top + 2);
    ctx.stroke();
    ctx.restore();
  }
};

function sharePoints(pairs, color) {
  return { data: xy(pairs), pointRadius: 5, pointBackgroundColor: color, pointBorderColor: color,
    pointBorderWidth: 0.8, clip: false };
}

function shareOptions(xMin, xMax, padRight) {
  return {
    responsive: true,
    maintainAspectRatio: false,
    animation: false,
    events: [],
    layout: { autoPadding: false, padding: { top: 38, right: padRight, left: 0, bottom: 0 } },
    scales: {
      x: {
        type: 'linear', min: xMin, max: xMax, offset: false,
        grid: { display: false, drawTicks: false },
        border: { display: true, color: '#262626', width: 3 },
        afterBuildTicks: asTicks(shareTicks),
        afterFit: fitAxis(55),
        ticks: { font: { size: 20 }, padding: 0, maxRotation: 0 },
        title: { display: true, text: 'NEC samples (%)', color: '#1a1a1a', font: { size: 28, lineHeight: 1 }, padding: { top: 0, bottom: 0 } }
      },
      y: {
        type: 'linear', min: 0, max: 54.5, offset: false,
        grid: { display: false, drawTicks: false },
        border: { display: true, color: '#262626', width: 3 },
        afterBuildTicks: asTicks(shareTicks),
        afterFit: fitAxis(70),
        ticks: { font: { size: 20 }, padding: 8 },
        title: { display: true, text: 'Control samples  (%)', color: '#1a1a1a', font: { size: 28, lineHeight: 1.2 }, padding: { top: 3, bottom: 0 } }
      }
    },
    plugins: { legend: { display: false }, tooltip: { enabled: false } }
  };
}

new Chart(document.getElementById('bacteria'), {
  type: 'scatter',
  data: {
    datasets: [
      sharePoints(cFirmicutes, 'rgba(44,160,44,0.75)'),
      sharePoints(cBacteroidetes, 'rgba(255,127,14,0.75)'),
      sharePoints(cProteobacteria, 'rgba(148,103,189,0.75)'),
      sharePoints(cActinobacteria, 'rgba(31,119,180,0.8)')
    ]
  },
  options: shareOptions(0, 58, 22),
  plugins: [diagonal, notesPlugin([
    { parts: [{ t: 'E. faecalis', it: true }, { t: ' 137_5' }], at: [21.1, 43.5] },
    { parts: [{ t: 'K. pneumoniae', it: true }, { t: ' 242_2' }], at: [39.6, 8.2] }
  ], [
    { from: [22.0, 40.6], to: cFirmicutes[8] },
    { from: [38.6, 10.2], to: cProteobacteria[9], width: 0.8 }
  ])]
});

new Chart(document.getElementById('mobile'), {
  type: 'scatter',
  data: {
    datasets: [
      sharePoints(dPlasmids, 'rgba(23,190,207,0.8)'),
      sharePoints(dPhages, 'rgba(188,189,34,0.8)')
    ]
  },
  options: shareOptions(-0.65, 55.3, 9),
  plugins: [diagonal, notesPlugin([
    { parts: [{ t: 'S. epidermidis', it: true }], at: [20.9, 50.4] },
    { parts: [{ t: 'plasmid 212_2' }], at: [21.2, 44.4] },
    { parts: [{ t: 'Staphylococcus', it: true }], at: [41.5, 22.3] },
    { parts: [{ t: 'phage 363_30' }], at: [41.5, 16.6] }
  ], [
    { from: [19.8, 40.1], to: dPlasmids[17] },
    { from: [41.5, 15.3], to: dPhages[6] }
  ])]
});
</script>
</body>
</html>
